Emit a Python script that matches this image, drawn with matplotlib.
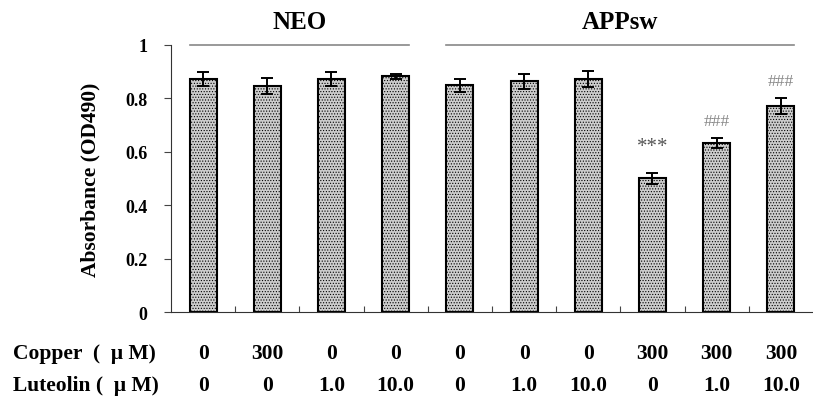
import matplotlib
matplotlib.use('Agg')
import matplotlib.pyplot as plt
import numpy as np

plt.rcParams.update({
    'font.family': ['Liberation Serif', 'DejaVu Serif'],
    'font.weight': 'bold',
    'hatch.color': '#8a8a8a',
    'hatch.linewidth': 0.5,
})

# data
absorbance = [0.873, 0.845, 0.873, 0.883, 0.848, 0.864, 0.873, 0.500, 0.632, 0.770]
errors = [0.027, 0.030, 0.027, 0.009, 0.025, 0.028, 0.030, 0.019, 0.019, 0.030]
copper = ['0', '300', '0', '0', '0', '0', '0', '300', '300', '300']
luteolin = ['0', '0', '1.0', '10.0', '0', '1.0', '10.0', '0', '1.0', '10.0']
marks = ['', '', '', '', '', '', '', '***', '###', '###']
groups = [('NEO', 0, 3), ('APPsw', 4, 9)]
yticks = [0, 0.2, 0.4, 0.6, 0.8, 1.0]
ytick_labels = ['0', '0.2', '0.4', '0.6', '0.8', '1']

fig = plt.figure(figsize=(8.13, 4.06), dpi=100)
ax = fig.add_axes([0.2103, 0.229, 0.7897, 0.658])

x = np.arange(len(absorbance)) + 0.5
ax.bar(x, absorbance, width=0.42, color='#cdcdcd', hatch='......',
       edgecolor='black', linewidth=1.5, zorder=2)
ax.errorbar(x, absorbance, yerr=errors, fmt='none', ecolor='black',
            elinewidth=1.4, capsize=4.5, capthick=1.4, zorder=3)

ax.set_xlim(0, 10)
ax.set_ylim(0, 1.0)
ax.set_yticks(yticks)
ax.set_yticklabels(ytick_labels, fontsize=13, fontweight='bold')
ax.set_xticks(np.arange(1, 10))
ax.set_xticklabels([])
ax.tick_params(axis='x', direction='in', length=4, width=0.8, color='#444444')
ax.tick_params(axis='y', direction='out', length=5, width=0.8, color='#444444', pad=12)
for s in ['top', 'right']:
    ax.spines[s].set_visible(False)
ax.spines['left'].set_color('#333333')
ax.spines['bottom'].set_color('#333333')
ax.set_ylabel('Absorbance (OD490)', fontsize=15.5, fontweight='bold', labelpad=18)

# significance marks
for xi, v, e, m in zip(x, absorbance, errors, marks):
    if m == '***':
        ax.text(xi, v + e + 0.1, m, ha='center', va='center', fontsize=15,
                color='#555555', fontweight='normal')
    elif m:
        ax.text(xi, v + e + 0.065, m, ha='center', va='center', fontsize=12.5,
                color='#888888', fontweight='normal')

# group lines and labels
for name, i0, i1 in groups:
    ax.plot([x[i0] - 0.21, x[i1] + 0.21], [1.0, 1.0], color='#888888',
            linewidth=1.2, clip_on=False)
    ax.text((x[i0] + x[i1]) / 2, 1.045, name, ha='center', va='bottom',
            fontsize=18, fontweight='bold')

# condition table below the axis
trans = ax.get_xaxis_transform()
for xi, c, l in zip(x, copper, luteolin):
    ax.text(xi, -0.155, c, transform=trans, ha='center', va='center', fontsize=15.5)
    ax.text(xi, -0.275, l, transform=trans, ha='center', va='center', fontsize=15.5)
fig.text(13 / 813, 1 - 354 / 406, 'Copper  (  \u03bc M)', ha='left', va='center', fontsize=15.5)
fig.text(13 / 813, 1 - 386 / 406, 'Luteolin (  \u03bc M)', ha='left', va='center', fontsize=15.5)

fig.savefig('out.png', dpi=100, facecolor='white')
